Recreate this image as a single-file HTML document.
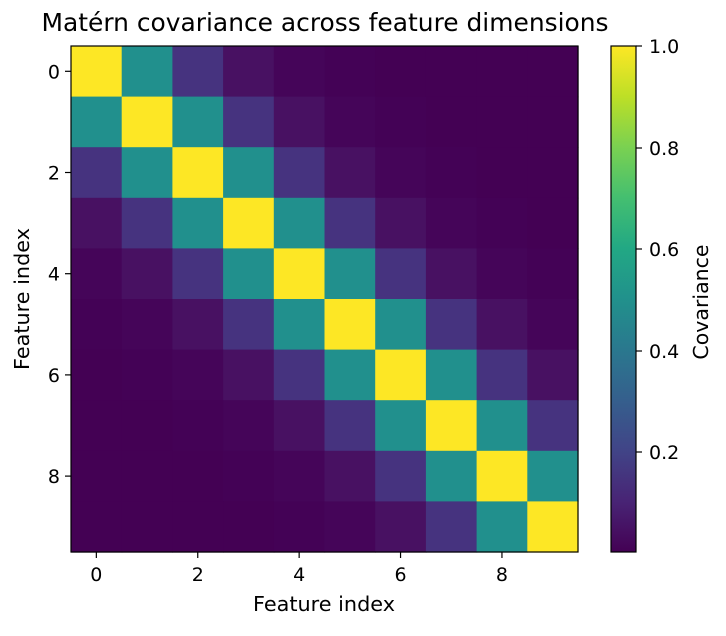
<!DOCTYPE html>
<html><head><meta charset="utf-8"><style>
html,body{margin:0;padding:0;background:#fff;}
svg text{font-family:"DejaVu Sans","Liberation Sans",sans-serif;fill:#000;}
</style></head><body>
<svg id="s" width="726" height="631" viewBox="0 0 726 631" xmlns="http://www.w3.org/2000/svg">
<defs>
<linearGradient id="vir" x1="0" y1="1" x2="0" y2="0">
<stop offset="0" stop-color="#440154"/>
<stop offset="0.1" stop-color="#482475"/>
<stop offset="0.2" stop-color="#414487"/>
<stop offset="0.3" stop-color="#355f8d"/>
<stop offset="0.4" stop-color="#2a788e"/>
<stop offset="0.5" stop-color="#21918c"/>
<stop offset="0.6" stop-color="#22a884"/>
<stop offset="0.7" stop-color="#44bf70"/>
<stop offset="0.8" stop-color="#7ad151"/>
<stop offset="0.9" stop-color="#bddf26"/>
<stop offset="1" stop-color="#fde725"/>
</linearGradient>
</defs>
<text x="325" y="31" font-size="24.5" text-anchor="middle" textLength="567" lengthAdjust="spacingAndGlyphs">Matérn covariance across feature dimensions</text>
<g id="cells"></g>
<rect x="71" y="46" width="507" height="506" fill="none" stroke="#000" stroke-width="1.2"/>
<g id="ticks" stroke="#000" stroke-width="1.2"></g>
<g id="labels" font-size="19"></g>
<text x="324" y="611" font-size="20.5" text-anchor="middle" textLength="142" lengthAdjust="spacingAndGlyphs">Feature index</text>
<text transform="translate(29,299) rotate(-90)" font-size="20.5" text-anchor="middle" textLength="142" lengthAdjust="spacingAndGlyphs">Feature index</text>
<rect x="611" y="46" width="25" height="506" fill="url(#vir)" stroke="#000" stroke-width="1.2"/>
<g stroke="#000" stroke-width="1.2">
<line x1="636" y1="452" x2="642" y2="452"/><line x1="636" y1="351" x2="642" y2="351"/>
<line x1="636" y1="249" x2="642" y2="249"/><line x1="636" y1="148" x2="642" y2="148"/>
<line x1="636" y1="46" x2="642" y2="46"/>
</g>
<g font-size="19">
<text x="649" y="459">0.2</text><text x="649" y="358">0.4</text>
<text x="649" y="256">0.6</text><text x="649" y="155">0.8</text>
<text x="649" y="53">1.0</text>
</g>
<text transform="translate(708,302) rotate(-90)" font-size="20.5" text-anchor="middle">Covariance</text>
</svg>
<script>
var cols=["#fde725","#21908d","#46337f","#481162","#450559","#440256","#440154","#440154","#440154","#440154"];
var ns="http://www.w3.org/2000/svg",g=document.getElementById("cells"),w=507/10,h=506/10;
for(var i=0;i<10;i++)for(var j=0;j<10;j++){var r=document.createElementNS(ns,"rect");
r.setAttribute("x",71+j*w);r.setAttribute("y",46+i*h);r.setAttribute("width",w+0.6);r.setAttribute("height",h+0.6);
r.setAttribute("fill",cols[Math.abs(i-j)]);g.appendChild(r);}
var t=document.getElementById("ticks"),l=document.getElementById("labels");
for(var k=0;k<10;k+=2){var x=71+(k+0.5)*w,y=46+(k+0.5)*h;
var a=document.createElementNS(ns,"line");a.setAttribute("x1",x);a.setAttribute("x2",x);a.setAttribute("y1",552);a.setAttribute("y2",558);t.appendChild(a);
var b=document.createElementNS(ns,"line");b.setAttribute("x1",65);b.setAttribute("x2",71);b.setAttribute("y1",y);b.setAttribute("y2",y);t.appendChild(b);
var c=document.createElementNS(ns,"text");c.setAttribute("x",x);c.setAttribute("y",581);c.setAttribute("text-anchor","middle");c.textContent=k;l.appendChild(c);
var d=document.createElementNS(ns,"text");d.setAttribute("x",60);d.setAttribute("y",y+7);d.setAttribute("text-anchor","end");d.textContent=k;l.appendChild(d);}
</script>
</body></html>
